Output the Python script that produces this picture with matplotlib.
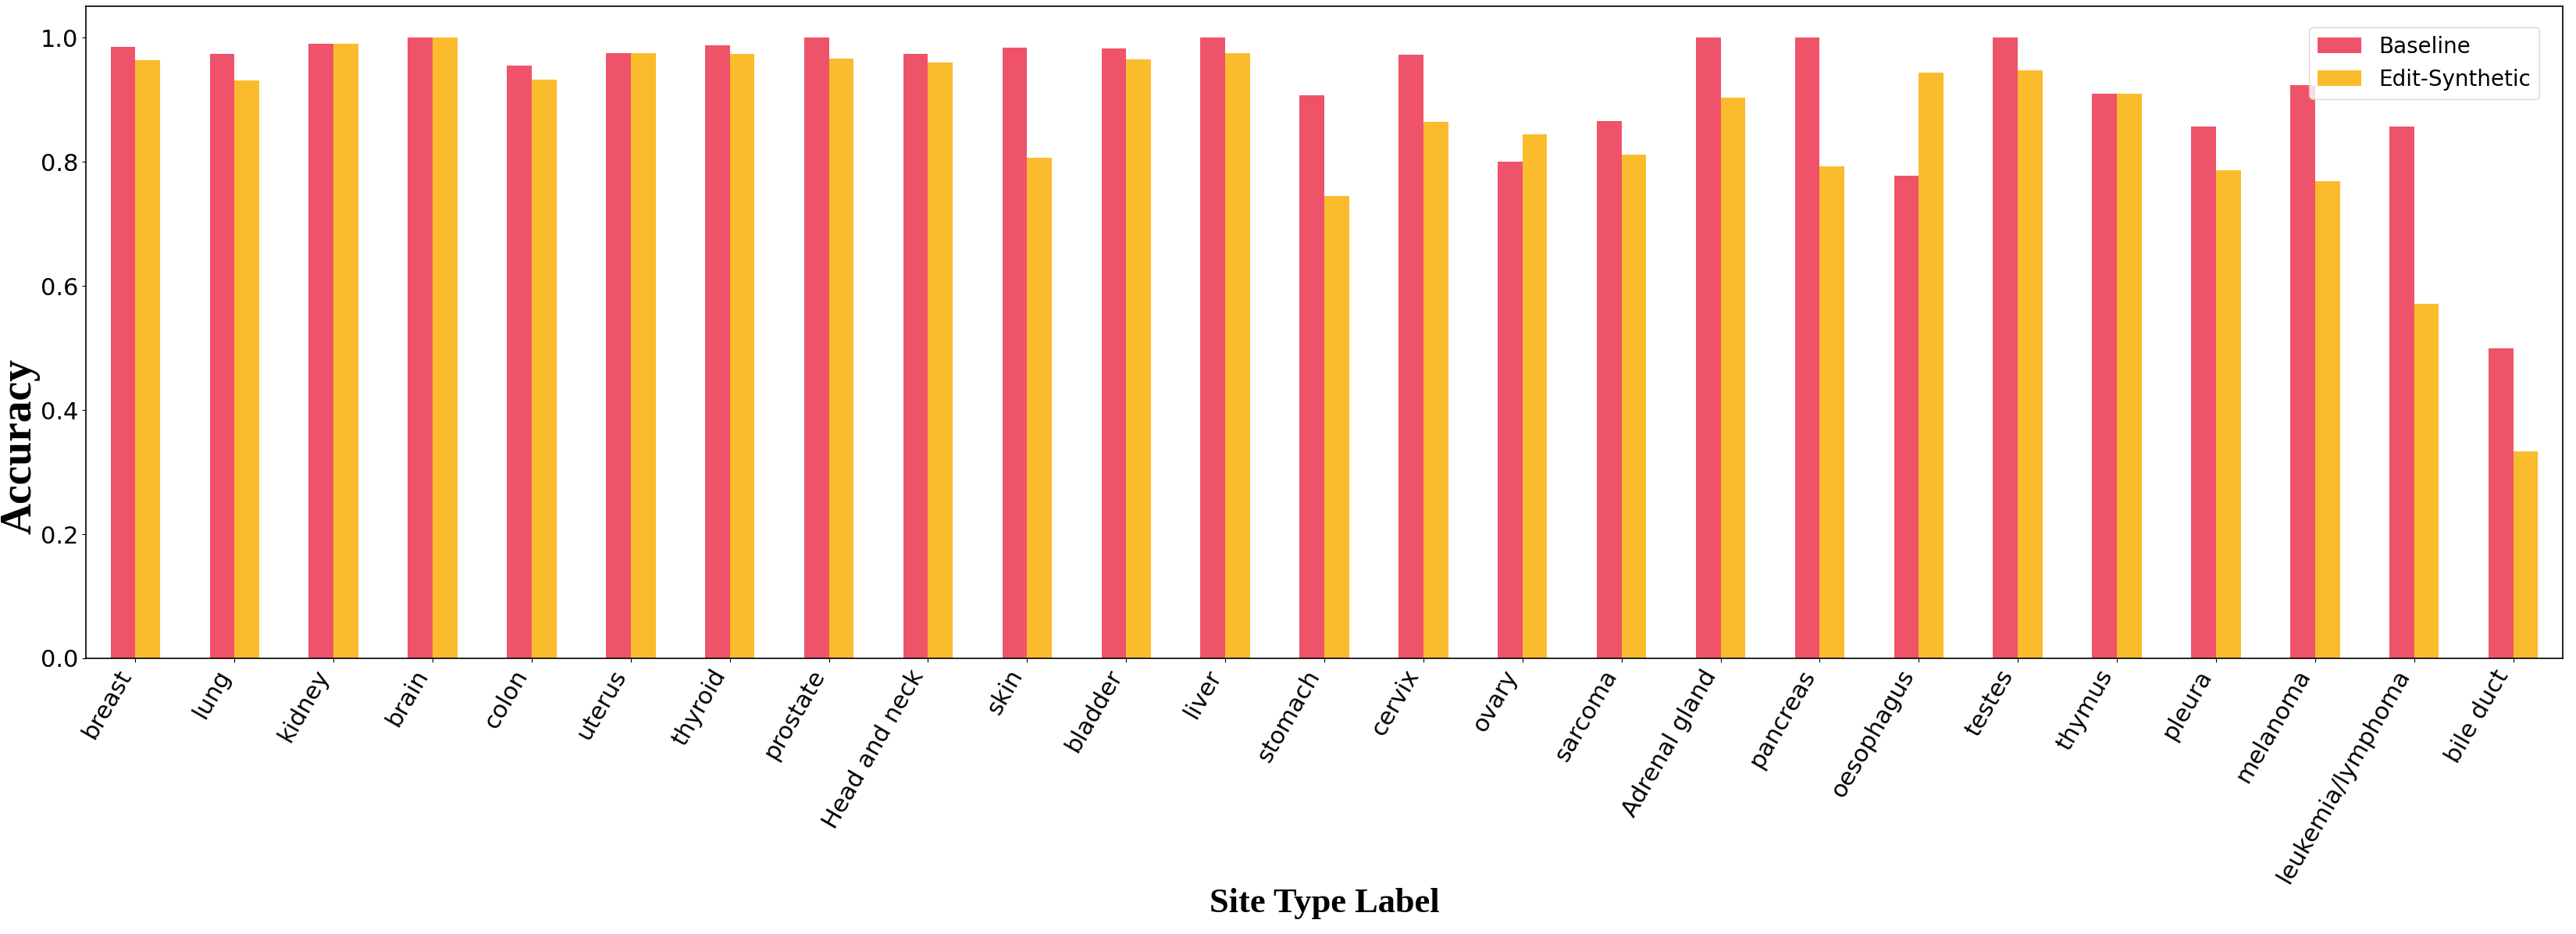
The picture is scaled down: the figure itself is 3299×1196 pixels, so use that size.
import matplotlib
matplotlib.use("Agg")
import matplotlib.pyplot as plt
import numpy as np

categories = ["breast", "lung", "kidney", "brain", "colon", "uterus", "thyroid",
              "prostate", "Head and neck", "skin", "bladder", "liver", "stomach",
              "cervix", "ovary", "sarcoma", "Adrenal gland", "pancreas", "oesophagus",
              "testes", "thymus", "pleura", "melanoma", "leukemia/lymphoma", "bile duct"]
baseline = [0.985, 0.974, 0.990, 1.0, 0.955, 0.975, 0.987, 1.0, 0.974, 0.984, 0.982,
            1.0, 0.907, 0.972, 0.800, 0.865, 1.0, 1.0, 0.778, 1.0, 0.909, 0.857,
            0.923, 0.857, 0.500]
edit_synthetic = [0.963, 0.931, 0.990, 1.0, 0.932, 0.975, 0.974, 0.966, 0.960, 0.806,
                  0.965, 0.975, 0.745, 0.864, 0.844, 0.811, 0.903, 0.792, 0.944,
                  0.947, 0.909, 0.786, 0.769, 0.571, 0.333]
series_names = ["Baseline", "Edit-Synthetic"]
colors = ["#EF5369", "#FABC2C"]

fig = plt.figure(figsize=(32.99, 11.96), dpi=100)
ax = fig.add_axes([110/3299, 1-843/1196, (3282-110)/3299, (843-8.3)/1196])

x = np.arange(len(categories))
w = 0.25
ax.bar(x - w/2, baseline, width=w, color=colors[0], label=series_names[0])
ax.bar(x + w/2, edit_synthetic, width=w, color=colors[1], label=series_names[1])

ax.set_xlim(-0.5, len(categories) - 0.5)
ax.set_ylim(0, 1.05)
ax.set_xticks(x)
ax.set_xticklabels(categories, rotation=60, ha="right", rotation_mode="default",
                   fontsize=22)
ax.set_yticks([0.0, 0.2, 0.4, 0.6, 0.8, 1.0])
ax.tick_params(axis="y", labelsize=22)
for s in ax.spines.values():
    s.set_linewidth(1.2)

ax.set_ylabel("Accuracy", fontsize=40, fontweight="bold", family="Liberation Serif")
ax.yaxis.set_label_coords(-0.0185, 0.325)
ax.set_xlabel("Site Type Label", fontsize=32, fontweight="bold", family="Liberation Serif")
ax.xaxis.set_label_coords(0.5, -0.352)

ax.legend(loc="upper right", fontsize=20, frameon=True, bbox_to_anchor=(0.995, 0.985))

fig.savefig("out.png", dpi=100)
